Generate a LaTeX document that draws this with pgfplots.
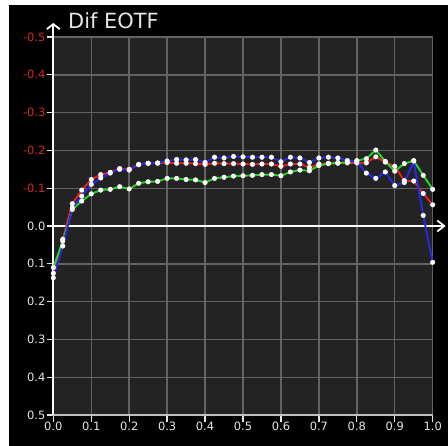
\documentclass[border=0pt]{standalone}
\usepackage{fontspec}
\setmainfont{DejaVu Sans}
\usepackage{pgfplots}
\usepackage{pgfplotstable}
\pgfplotsset{compat=1.18}
\usetikzlibrary{arrows.meta}
\definecolor{plotbg}{HTML}{232323}
\definecolor{gridc}{HTML}{636363}
\definecolor{tickred}{HTML}{DA2626}
\definecolor{txt}{HTML}{E6E6E6}
\definecolor{sred}{HTML}{E82020}
\definecolor{sgreen}{HTML}{22D822}
\definecolor{sblue}{HTML}{2828E8}
\pgfplotstableread{
x r g b
0 0.125 0.110 0.137
0.025 0.035 0.040 0.053
0.05 -0.059 -0.044 -0.048
0.075 -0.095 -0.066 -0.079
0.1 -0.123 -0.085 -0.110
0.125 -0.136 -0.095 -0.127
0.15 -0.142 -0.097 -0.140
0.175 -0.152 -0.104 -0.150
0.2 -0.150 -0.098 -0.148
0.225 -0.163 -0.113 -0.162
0.25 -0.166 -0.117 -0.166
0.275 -0.166 -0.118 -0.167
0.3 -0.168 -0.126 -0.172
0.325 -0.166 -0.126 -0.176
0.35 -0.166 -0.123 -0.175
0.375 -0.165 -0.122 -0.176
0.4 -0.163 -0.115 -0.168
0.425 -0.166 -0.126 -0.182
0.45 -0.165 -0.129 -0.180
0.475 -0.165 -0.132 -0.184
0.5 -0.164 -0.133 -0.183
0.525 -0.163 -0.134 -0.182
0.55 -0.164 -0.136 -0.182
0.575 -0.164 -0.136 -0.182
0.6 -0.158 -0.133 -0.170
0.625 -0.164 -0.143 -0.182
0.65 -0.164 -0.148 -0.180
0.675 -0.155 -0.146 -0.168
0.7 -0.164 -0.160 -0.180
0.725 -0.166 -0.165 -0.182
0.75 -0.168 -0.166 -0.180
0.775 -0.167 -0.169 -0.173
0.8 -0.167 -0.173 -0.171
0.825 -0.167 -0.178 -0.140
0.85 -0.183 -0.201 -0.126
0.875 -0.169 -0.171 -0.143
0.9 -0.158 -0.145 -0.107
0.925 -0.120 -0.165 -0.115
0.95 -0.119 -0.173 -0.172
0.975 -0.086 -0.134 -0.028
1.0 -0.056 -0.097 0.096
}\eotf
\begin{document}
\begin{tikzpicture}[x=1bp,y=1bp]
\useasboundingbox (0,0) rectangle (448,-446);
\fill[white] (0,0) rectangle (448,-446);
\fill[black] (9,-5) rectangle (448,-446);
\begin{axis}[
  at={(53.3bp,-415bp)}, anchor=south west,
  scale only axis, width=379.4bp, height=378bp,
  xmin=0, xmax=1, ymin=-0.5, ymax=0.5,
  axis background/.style={fill=plotbg},
  axis line style={draw=none},
  xmajorgrids, ymajorgrids,
  grid style={gridc, line width=1.4bp},
  xtick={0,0.1,0.2,0.3,0.4,0.5,0.6,0.7,0.8,0.9,1},
  xticklabels={0.0,0.1,0.2,0.3,0.4,0.5,0.6,0.7,0.8,0.9,1.0},
  ytick={-0.5,-0.4,-0.3,-0.2,-0.1,0,0.1,0.2,0.3,0.4,0.5},
  yticklabels={0.5,0.4,0.3,0.2,0.1,0.0,
    \textcolor{tickred}{-0.1},\textcolor{tickred}{-0.2},\textcolor{tickred}{-0.3},
    \textcolor{tickred}{-0.4},\textcolor{tickred}{-0.5}},
  tick align=outside, tick pos=left, major tick length=6.5bp,
  major tick style={txt, line width=1.3bp},
  tick label style={font=\fontsize{11.5}{12}\selectfont, text=txt},
  xticklabel style={inner sep=0pt},
  yticklabel style={inner sep=1.2bp},
  clip=false,
]
\draw[white, line width=1.8bp, -{Straight Barb[length=7bp,width=11bp]}]
  (axis cs:0,0) -- ([xshift=13bp]axis cs:1,0);
\draw[white!75!black, line width=1.3bp] (rel axis cs:0,0) -- (rel axis cs:1,0);
\draw[white, line width=1.8bp, -{Straight Barb[length=5bp,width=13bp]}]
  (rel axis cs:0,0) -- ([yshift=14bp]rel axis cs:0,1);
\addplot[sred, line width=1.9bp, no markers] table[x=x, y expr=-\thisrow{r}] {\eotf};
\addplot[sgreen, line width=1.9bp, no markers] table[x=x, y expr=-\thisrow{g}] {\eotf};
\addplot[sblue, line width=1.9bp, no markers] table[x=x, y expr=-\thisrow{b}] {\eotf};
\addplot[only marks, mark=*, mark size=2.3bp, mark options={fill=white, draw=white}] table[x=x, y expr=-\thisrow{r}] {\eotf};
\addplot[only marks, mark=*, mark size=2.3bp, mark options={fill=white, draw=white}] table[x=x, y expr=-\thisrow{g}] {\eotf};
\addplot[only marks, mark=*, mark size=2.3bp, mark options={fill=white, draw=white}] table[x=x, y expr=-\thisrow{b}] {\eotf};
\end{axis}
\node[anchor=base west, text=txt, font=\fontsize{21}{24}\selectfont, inner sep=0pt] at (68,-28.5) {Dif EOTF};
\end{tikzpicture}
\end{document}
